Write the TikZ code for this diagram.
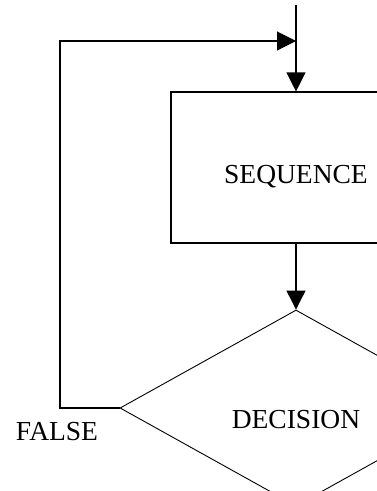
\documentclass[tikz,border=0pt]{standalone}
\usepackage{fontspec}
\setmainfont{Liberation Serif}
\usetikzlibrary{shapes.geometric,arrows.meta}
\begin{document}
\begin{tikzpicture}[x=1pt,y=-1pt,
  line width=1.1pt,
  flow/.style={-{Triangle[length=19pt,width=19pt]}},
  txt/.style={font=\fontsize{27.5}{30}\selectfont},
  procbox/.style={draw,rectangle,minimum width=250pt,minimum height=151pt,
    inner sep=0pt,txt,text height=31pt,text depth=0pt},
  decbox/.style={draw,diamond,minimum width=352pt,minimum height=196pt,
    inner sep=0pt,txt,text height=40pt,text depth=0pt,line width=0.9pt}]
\useasboundingbox (0,0) rectangle (377,491);
\clip (0,0) rectangle (377,491);
\fill[white] (0,0) rectangle (377,491);
% flow entry and loop junction
\coordinate (entry) at (296,5);
\coordinate (join) at (296,41);
% process and decision shapes
\node[procbox] (seq) at (296,167.5) {SEQUENCE};
\node[decbox] (dec) at (296,408) {DECISION};
\node[txt,anchor=base] (false) at (57,440) {FALSE};
% connectors
\draw[flow] (entry) -- (seq.north);
\draw[flow] (seq.south) -- (dec.north);
\draw[flow] (dec.west) -- (60,408) |- (join);
\end{tikzpicture}
\end{document}
